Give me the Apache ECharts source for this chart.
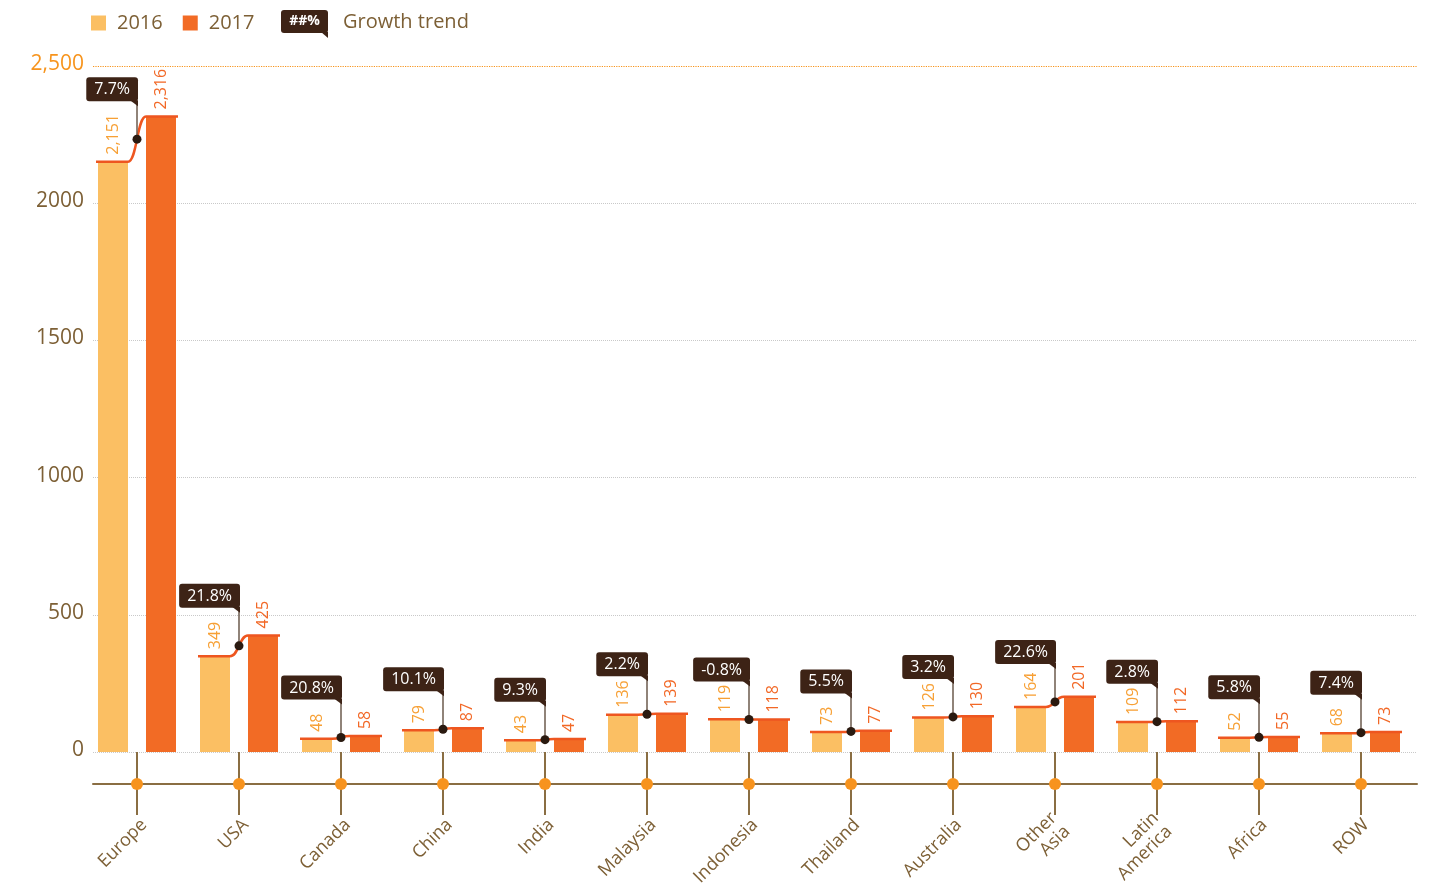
<!DOCTYPE html>
<html>
<head>
<meta charset="utf-8">
<title>Growth by region 2016–2017</title>
<script src="https://cdn.jsdelivr.net/npm/echarts@6/dist/echarts.min.js"></script>
<style>
  html, body { margin: 0; padding: 0; background: #ffffff; }
  #chart { width: 1429px; height: 889px; }
</style>
</head>
<body>
<div id="chart"></div>
<script>
// Regions and yearly values
const categories = ['Europe', 'USA', 'Canada', 'China', 'India', 'Malaysia', 'Indonesia',
  'Thailand', 'Australia', 'Other\nAsia', 'Latin\nAmerica', 'Africa', 'ROW'];
const values2016 = [2151, 349, 48, 79, 43, 136, 119, 73, 126, 164, 109, 52, 68];
const values2017 = [2316, 425, 58, 87, 47, 139, 118, 77, 130, 201, 112, 55, 73];
// Year-over-year growth, percent
const growth = [7.7, 21.8, 20.8, 10.1, 9.3, 2.2, -0.8, 5.5, 3.2, 22.6, 2.8, 5.8, 7.4];
// Value axis ticks
const yTicks = [0, 500, 1000, 1500, 2000, 2500];

const FONT = '"Open Sans", "DejaVu Sans", sans-serif';
const BROWN = '#7d6036';
const AXIS_BROWN = '#8a6e43';
const ORANGE = '#f7941d';
const C2016 = '#fbbf63';
const C2017 = '#f26b25';
const TREND = '#ee5620';
const TAG = '#3d2316';

const BAR_W = 30;
const BAR_GAP = 18;
const AXIS_DROP = 32;   // distance from the zero line down to the category axis line

const yMin = yTicks[0];
const yMax = yTicks[yTicks.length - 1];

const chart = echarts.init(document.getElementById('chart'), null, { renderer: 'canvas' });

function fmt(n) { return n.toLocaleString('en-US'); }

const barLabel = (color) => ({
  show: true,
  position: 'top',
  distance: 7,
  rotate: 90,
  align: 'left',
  verticalAlign: 'middle',
  color: color,
  fontFamily: FONT,
  fontSize: 16,
  formatter: (p) => fmt(p.value)
});

// Axis tick with dot, trend connector, and growth tag per region
function renderTrend(params, api) {
  const i = api.value(0);
  const a = api.value(1);
  const b = api.value(2);
  const g = api.value(3);
  const p1 = api.coord([i, a]);
  const p2 = api.coord([i, b]);
  const base = api.coord([i, 0]);
  const cx = p1[0];
  const y1 = p1[1];
  const y2 = p2[1];
  const inner = BAR_GAP / 2;
  const outer = BAR_GAP / 2 + BAR_W + 2;
  const dotY = (y1 + y2) / 2;
  const tagBottom = dotY - 38;
  return {
    type: 'group',
    children: [
      {
        type: 'line',
        shape: { x1: cx, y1: base[1], x2: cx, y2: base[1] + AXIS_DROP * 2 - 1 },
        style: { stroke: AXIS_BROWN, lineWidth: 2 }
      },
      {
        type: 'circle',
        shape: { cx: cx, cy: base[1] + AXIS_DROP, r: 6 },
        style: { fill: '#f7931e' }
      },
      {
        type: 'path',
        shape: {
          pathData: 'M' + (cx - outer) + ' ' + y1 + ' L' + (cx - inner) + ' ' + y1 +
            ' C' + cx + ' ' + y1 + ' ' + cx + ' ' + y2 + ' ' + (cx + inner) + ' ' + y2 +
            ' L' + (cx + outer) + ' ' + y2
        },
        style: { stroke: TREND, lineWidth: 2.5, fill: null }
      },
      {
        type: 'line',
        shape: { x1: cx, y1: tagBottom, x2: cx, y2: dotY },
        style: { stroke: '#6b5a4c', lineWidth: 1.5 }
      },
      {
        type: 'polygon',
        shape: { points: [[cx - 7, tagBottom - 1], [cx + 1, tagBottom - 1], [cx + 1, tagBottom + 5]] },
        style: { fill: TAG }
      },
      {
        type: 'text',
        x: cx + 1,
        y: tagBottom,
        style: {
          text: g.toFixed(1) + '%',
          align: 'right',
          verticalAlign: 'bottom',
          fill: '#ffffff',
          fontFamily: FONT,
          fontSize: 16,
          lineHeight: 17,
          backgroundColor: TAG,
          padding: [4, 8, 3, 8],
          borderRadius: 3
        }
      },
      {
        type: 'circle',
        shape: { cx: cx, cy: dotY, r: 4.5 },
        style: { fill: '#2a1a10' }
      }
    ]
  };
}

const trendData = categories.map((c, i) => [i, values2016[i], values2017[i], growth[i]]);

const option = {
  backgroundColor: '#ffffff',
  animation: false,
  textStyle: { fontFamily: FONT },
  legend: {
    data: ['2016', '2017'],
    left: 86,
    top: 8,
    icon: 'rect',
    itemWidth: 15,
    itemHeight: 15,
    itemGap: 20,
    textStyle: { color: BROWN, fontSize: 20, fontFamily: FONT, padding: [0, 0, 0, 6] }
  },
  graphic: [
    {
      type: 'group',
      left: 281,
      top: 10,
      children: [
        { type: 'rect', shape: { x: 0, y: 0, width: 47, height: 23, r: 3 }, style: { fill: TAG } },
        { type: 'polygon', shape: { points: [[40, 22], [47, 22], [47, 28]] }, style: { fill: TAG } },
        {
          type: 'text', x: 23.5, y: 11.5,
          style: { text: '##%', fill: '#ffffff', fontSize: 14, fontFamily: FONT, fontWeight: 'bold', align: 'center', verticalAlign: 'middle' }
        }
      ]
    },
    {
      type: 'text',
      left: 343,
      top: 12,
      style: { text: 'Growth trend', fill: BROWN, fontSize: 20, fontFamily: FONT }
    }
  ],
  grid: [
    // bars
    { left: 86, width: 1326, top: 66, height: 686 },
    // value axis and dotted guides
    { left: 93, right: 12, top: 66, height: 686 },
    // category axis line and names, below the zero line
    { left: 93, right: 12, top: 66, height: 686 + AXIS_DROP }
  ],
  xAxis: [
    {
      gridIndex: 0,
      type: 'category',
      data: categories,
      axisLine: { show: false },
      axisTick: { show: false },
      axisLabel: { show: false },
      splitLine: { show: false }
    },
    {
      gridIndex: 1,
      type: 'category',
      data: categories,
      show: false
    },
    {
      gridIndex: 2,
      type: 'category',
      data: categories,
      axisLine: { onZero: false, lineStyle: { color: AXIS_BROWN, width: 2 } },
      axisTick: { show: false },
      splitLine: { show: false },
      axisLabel: {
        rotate: 45,
        margin: 38,
        color: BROWN,
        fontSize: 18,
        lineHeight: 19,
        fontFamily: FONT
      }
    }
  ],
  yAxis: [
    {
      gridIndex: 0,
      type: 'value',
      min: yMin,
      max: yMax,
      show: false,
      splitLine: { show: false }
    },
    {
      gridIndex: 1,
      type: 'value',
      min: yMin,
      max: yMax,
      interval: yTicks[1] - yTicks[0],
      axisLine: { show: false },
      axisTick: { show: false },
      axisLabel: {
        margin: 9,
        color: BROWN,
        fontSize: 21,
        fontFamily: FONT,
        padding: [0, 0, 4, 0],
        formatter: (v) => v === yMax ? '{top|' + fmt(v) + '}' : String(v),
        rich: { top: { color: ORANGE, fontSize: 21, fontFamily: FONT } }
      },
      splitLine: {
        showMaxLine: false,
        lineStyle: { type: 'dotted', width: 1, color: '#c9c9c9' }
      }
    },
    {
      // top reference line at the axis maximum
      gridIndex: 1,
      type: 'value',
      min: yMin,
      max: yMax,
      interval: yMax - yMin,
      position: 'left',
      axisLine: { show: false },
      axisTick: { show: false },
      axisLabel: { show: false },
      splitLine: {
        showMinLine: false,
        lineStyle: { type: 'dotted', width: 1.2, color: ORANGE }
      }
    },
    {
      gridIndex: 2,
      type: 'value',
      min: 0,
      max: 1,
      show: false,
      splitLine: { show: false }
    }
  ],
  series: [
    {
      name: '2016',
      type: 'bar',
      xAxisIndex: 0,
      yAxisIndex: 0,
      data: values2016,
      barWidth: BAR_W,
      barGap: (BAR_GAP / BAR_W * 100) + '%',
      itemStyle: { color: C2016 },
      label: barLabel('#f7a035')
    },
    {
      name: '2017',
      type: 'bar',
      xAxisIndex: 0,
      yAxisIndex: 0,
      data: values2017,
      barWidth: BAR_W,
      barGap: (BAR_GAP / BAR_W * 100) + '%',
      itemStyle: { color: C2017 },
      label: barLabel('#f26826')
    },
    {
      name: 'Growth trend',
      type: 'custom',
      xAxisIndex: 0,
      yAxisIndex: 0,
      z: 5,
      clip: false,
      data: trendData,
      renderItem: renderTrend
    }
  ]
};

chart.setOption(option);
</script>
</body>
</html>
